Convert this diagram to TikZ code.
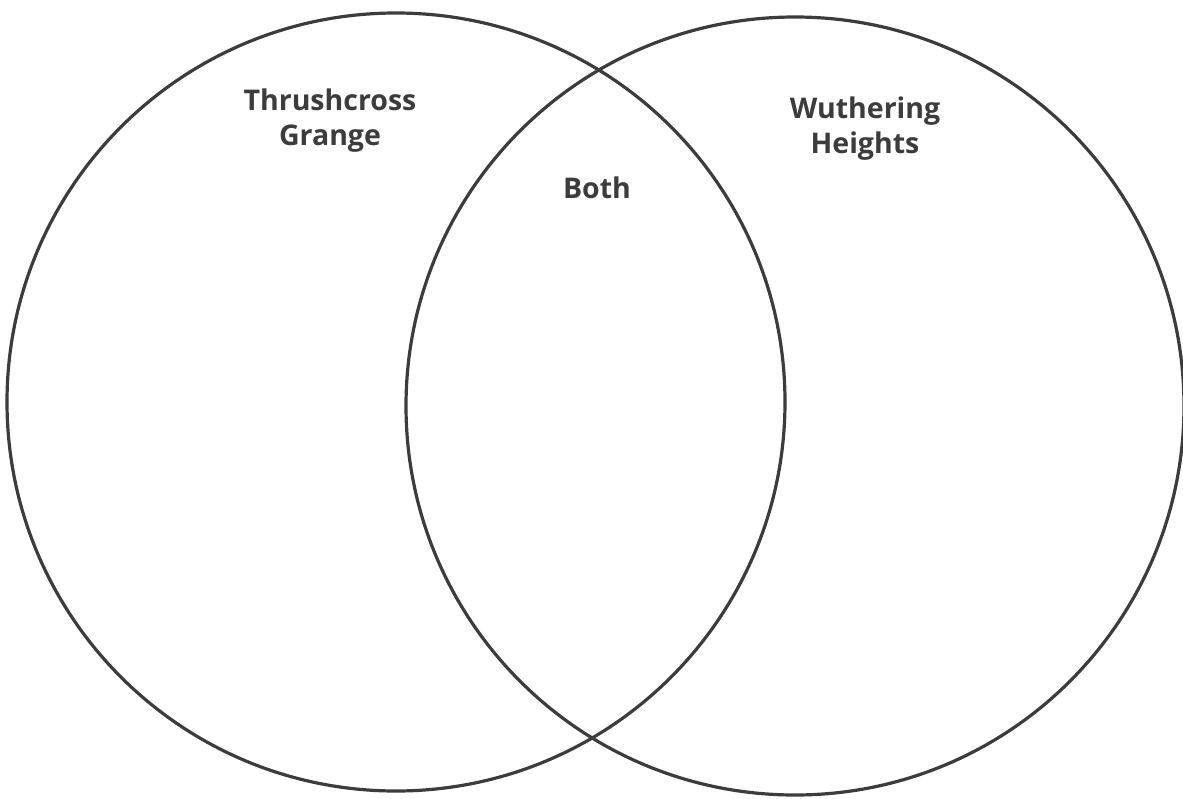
\documentclass[tikz,border=0pt]{standalone}
\usepackage{fontspec}
\setmainfont{Open Sans}
\definecolor{ink}{HTML}{3C3C3C}
\begin{document}
\begin{tikzpicture}[x=1pt,y=-1pt,
  ring/.style={draw=ink,line width=3.2pt,circle,minimum size=778pt,inner sep=0pt},
  lbl/.style={text=ink,font=\bfseries\fontsize{28.5}{35}\selectfont,align=center,inner sep=0pt}]
\useasboundingbox (0,0) rectangle (1183,798);
\node[ring] (L) at (396,402) {};
\node[ring] (R) at (795,406) {};
\node[lbl] (tg) at (330,121) {Thrushcross\\Grange};
\node[lbl] (wh) at (865,129) {Wuthering\\Heights};
\node[lbl] (b) at (597,188) {Both};
\end{tikzpicture}
\end{document}
